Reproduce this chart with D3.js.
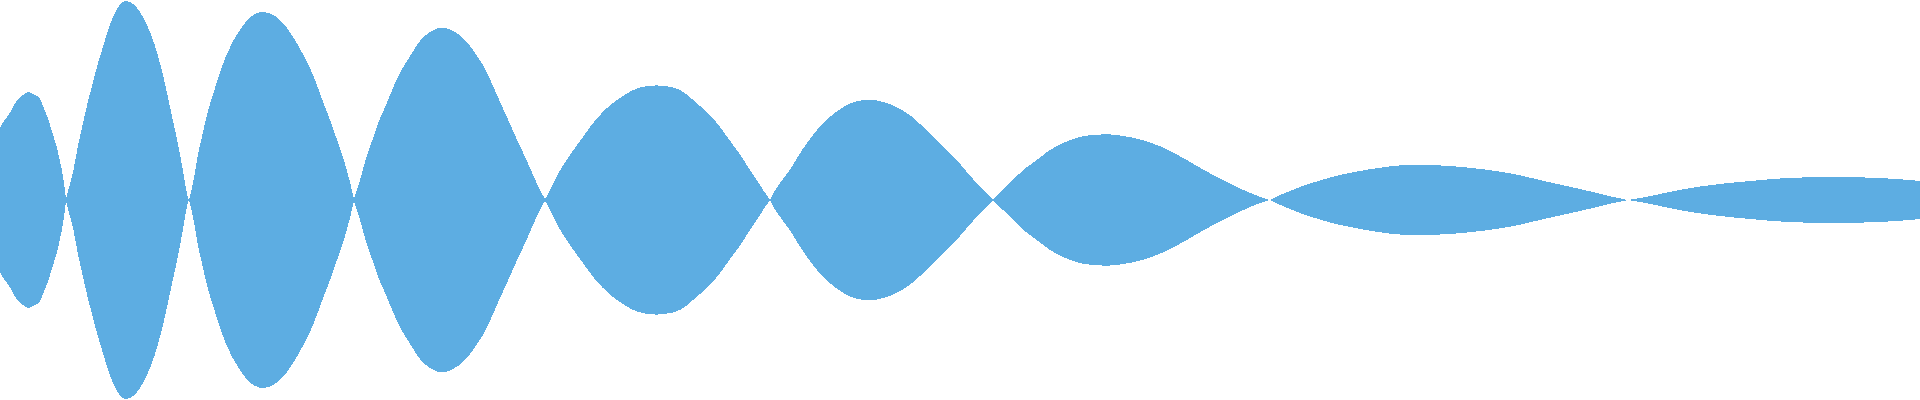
<!DOCTYPE html>
<html>
<head>
<meta charset="utf-8">
<script src="https://cdn.jsdelivr.net/npm/d3@7/dist/d3.min.js"></script>
<style>
  html, body { margin: 0; padding: 0; background: #ffffff; overflow: hidden; }
  svg { display: block; }
</style>
</head>
<body>
<svg id="chart" width="1920" height="400"></svg>
<script>
// Sample positions (time index) and envelope amplitude
const sampleX = [
  0, 3, 7, 10, 13, 17, 20, 23, 28, 33, 37, 40, 43, 47, 50, 53, 57, 59, 62, 64, 66,
  68, 72, 75, 78, 82, 85, 88, 92, 95, 98, 102, 105, 108, 112, 115, 120, 125, 130, 135, 140,
  145, 150, 155, 160, 165, 170, 175, 180, 184, 187, 189,
  192, 195, 198, 202, 205, 208, 212, 215, 218, 222, 225, 228, 232, 235, 238, 242, 245, 250, 255, 260,
  265, 272, 278, 285, 292, 298, 305, 312, 318, 325, 332, 338, 345, 350, 354,
  358, 362, 365, 368, 372, 375, 378, 382, 387, 392, 397, 402, 407, 412, 417, 422, 427, 433, 440, 447,
  453, 460, 467, 473, 480, 487, 493, 500, 507, 513, 520, 527, 533, 538, 542, 545,
  548, 552, 557, 563, 570, 577, 583, 590, 597, 603, 610, 617, 627, 637, 647, 657, 673, 680, 685, 690,
  695, 700, 707, 712, 717, 723, 730, 737, 743, 750, 757, 763, 768, 770,
  773, 780, 787, 793, 800, 807, 815, 823, 832, 840, 848, 857, 870, 880, 887, 897, 907, 915, 923, 932,
  940, 948, 957, 965, 973, 980, 987, 993,
  998, 1003, 1010, 1017, 1023, 1030, 1037, 1043, 1050, 1057, 1063, 1073, 1083, 1093, 1107, 1117, 1130, 1143, 1157, 1167,
  1187, 1207, 1227, 1247, 1263, 1270,
  1278, 1285, 1295, 1305, 1315, 1325, 1335, 1345, 1355, 1365, 1378, 1392, 1405, 1432, 1452, 1473, 1497, 1520, 1543, 1567,
  1593, 1613, 1628,
  1647, 1660, 1683, 1717, 1750, 1783, 1817, 1850, 1883, 1910, 1920
];
const amplitude = [
  72, 78, 83, 87, 93, 100, 103, 105, 109, 106, 104, 103, 93, 85, 75, 65, 53, 43, 30, 17, 1,
  10, 22, 38, 55, 72, 86, 99, 114, 126, 137, 150, 160, 170, 181, 188, 196, 200, 198, 195, 188,
  180, 168, 155, 137, 117, 93, 70, 47, 23, 5, 0,
  12, 27, 47, 63, 77, 90, 102, 112, 122, 133, 142, 148, 157, 162, 167, 173, 177, 183, 186, 188,
  188, 186, 182, 175, 165, 155, 142, 128, 112, 93, 75, 57, 37, 18, 1,
  13, 27, 38, 48, 59, 67, 77, 86, 97, 110, 121, 131, 139, 147, 155, 162, 166, 170, 173, 172,
  169, 165, 158, 150, 140, 128, 114, 98, 83, 69, 54, 39, 25, 14, 6, 1,
  5, 14, 24, 35, 45, 55, 63, 73, 82, 88, 95, 100, 107, 112, 114, 115, 113, 110, 107, 103,
  98, 94, 88, 83, 77, 69, 59, 50, 41, 30, 20, 10, 3, 0,
  7, 17, 26, 35, 47, 57, 68, 77, 85, 91, 96, 99, 101, 99, 97, 93, 87, 81, 73, 65,
  57, 48, 40, 30, 21, 13, 6, 1,
  5, 10, 17, 24, 30, 35, 40, 45, 50, 54, 57, 61, 64, 65, 66, 65, 63, 60, 55, 51,
  40, 28, 18, 8, 2, 0,
  4, 7, 11, 15, 18, 21, 24, 26, 28, 30, 32, 34, 35, 35, 34, 32, 29, 25, 19, 14,
  8, 3, 0,
  3, 6, 11, 16, 19, 22, 23, 23, 22, 20, 19
];

const width = 1920, height = 400;
const fillColor = "#5DADE2";

const data = sampleX.map((t, i) => ({ t, a: amplitude[i] }));

// split the envelope into lobes at its zero crossings (local minima near zero)
const lobes = [];
let current = [data[0]];
for (let i = 1; i < data.length; i++) {
  current.push(data[i]);
  const isCrossing = i < data.length - 1 &&
    data[i].a <= 3 && data[i].a < data[i - 1].a && data[i].a <= data[i + 1].a;
  if (isCrossing) {
    lobes.push(current);
    current = [data[i]];
  }
}
lobes.push(current);

const x = d3.scaleLinear().domain([0, 1920]).range([0, width]);
const y = d3.scaleLinear().domain([-200, 200]).range([height, 0]);

const area = d3.area()
  .x(d => x(d.t))
  .y0(d => y(-d.a))
  .y1(d => y(d.a))
  .curve(d3.curveBasis);

d3.select("#chart")
  .selectAll("path.lobe")
  .data(lobes)
  .join("path")
  .attr("class", "lobe")
  .attr("d", area)
  .attr("fill", fillColor)
  .attr("stroke", "none")
  .attr("shape-rendering", "crispEdges");
</script>
</body>
</html>
